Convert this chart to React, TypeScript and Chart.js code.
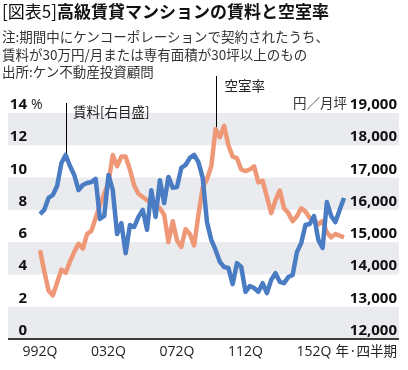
import React, { useEffect, useRef } from "react";
import { Chart, registerables } from "chart.js";

Chart.register(...registerables);

// ---- data ----
const quarters: string[] = [
  "992Q", "993Q", "994Q",
  "001Q", "002Q", "003Q", "004Q",
  "011Q", "012Q", "013Q", "014Q",
  "021Q", "022Q", "023Q", "024Q",
  "031Q", "032Q", "033Q", "034Q",
  "041Q", "042Q", "043Q", "044Q",
  "051Q", "052Q", "053Q", "054Q",
  "061Q", "062Q", "063Q", "064Q",
  "071Q", "072Q", "073Q", "074Q",
  "081Q", "082Q", "083Q", "084Q",
  "091Q", "092Q", "093Q", "094Q",
  "101Q", "102Q", "103Q", "104Q",
  "111Q", "112Q", "113Q", "114Q",
  "121Q", "122Q", "123Q", "124Q",
  "131Q", "132Q", "133Q", "134Q",
  "141Q", "142Q", "143Q", "144Q",
  "151Q", "152Q", "153Q", "154Q",
  "161Q", "162Q", "163Q", "164Q",
  "171Q",
];

// 賃料 (円/月坪, right axis)
const rent: number[] = [
  15870, 16000, 16370, 16460, 16740, 17450, 17700, 17360, 17080, 16610,
  16770, 16830, 16860, 16960, 15720, 15810, 17080, 16610, 15250, 15590,
  14660, 15530, 15470, 15780, 16000, 15380, 16610, 15780, 16920, 16210,
  17020, 16680, 16710, 17300, 17390, 17610, 17700, 17480, 16990, 15620,
  15070, 14760, 14390, 14230, 14200, 13700, 14350, 14230, 13460, 13640,
  13580, 13460, 13730, 13420, 13830, 14040, 13770, 13730, 13920, 13980,
  14690, 14970, 15530, 15560, 15810, 15070, 14820, 16240, 15810, 15620,
  16000, 16370,
];

// 空室率 (%, left axis)
const vacancy: number[] = [
  5.5, 4.2, 3.0, 2.7, 3.5, 4.3, 4.1, 4.8, 5.4, 5.9,
  5.6, 6.5, 6.7, 7.5, 8.3, 9.0, 9.7, 11.4, 10.7, 11.3,
  11.3, 10.5, 9.5, 9.0, 8.8, 8.6, 8.4, 8.3, 8.1, 7.7,
  6.0, 7.3, 6.1, 5.7, 6.8, 6.5, 5.8, 7.7, 9.4, 9.9,
  10.7, 13.0, 12.5, 13.2, 12.0, 11.3, 11.2, 10.5, 10.4, 10.5,
  10.7, 9.7, 9.8, 8.8, 7.8, 8.6, 9.2, 8.1, 7.8, 7.3,
  7.6, 8.1, 7.9, 7.5, 7.4, 7.1, 7.3, 6.6, 6.3, 6.5,
  6.4, 6.3,
];

const leftTicks: number[] = [0, 2, 4, 6, 8, 10, 12, 14];
const rightTicks: number[] = [12000, 13000, 14000, 15000, 16000, 17000, 18000, 19000];
const rightTickLabels: string[] = ["12,000", "13,000", "14,000", "15,000", "16,000", "17,000", "18,000", "19,000"];
const xTickLabels: string[] = ["992Q", "032Q", "072Q", "112Q", "152Q"];
const bands: [number, number][] = [[0, 2], [4, 6], [8, 10], [12, 14]];

const rentNoteIndex = 6;
const vacancyNoteIndex = 41;

// ---- styles ----
const BLUE = "#4a7cc3";
const ORANGE = "#ef9877";
const BAND = "#e9ebee";
const BAND_L = 8;
const BAND_R = 399;
const NUM = '"Open Sans", "DejaVu Sans", sans-serif';
const JP = '"Noto Sans CJK JP", sans-serif';

function text(ctx: CanvasRenderingContext2D, s: string, x: number, y: number, font: string, color: string, align: CanvasTextAlign) {
  ctx.font = font;
  ctx.fillStyle = color;
  ctx.textAlign = align;
  ctx.textBaseline = "alphabetic";
  ctx.fillText(s, x, y);
}

const decor = {
  id: "decor",
  beforeDatasetsDraw(chart: any) {
    const { ctx, scales } = chart;
    const y = scales.y;
    ctx.save();
    ctx.fillStyle = BAND;
    for (const [a, b] of bands) {
      const t = y.getPixelForValue(b);
      const btm = y.getPixelForValue(a);
      ctx.fillRect(BAND_L, t, BAND_R - BAND_L, btm - t);
    }
    ctx.restore();
  },
  afterDatasetsDraw(chart: any) {
    const { ctx, scales } = chart;
    const x = scales.x;
    const y = scales.y;
    const y2 = scales.y2;
    ctx.save();

    // axis line
    const base = y.getPixelForValue(0);
    ctx.strokeStyle = "#000";
    ctx.lineWidth = 1.5;
    ctx.beginPath();
    ctx.moveTo(BAND_L, base);
    ctx.lineTo(BAND_R, base);
    ctx.stroke();

    // left tick labels
    leftTicks.forEach((v) => {
      const py = y.getPixelForValue(v) - 4;
      text(ctx, String(v), 27, py, `bold 15px ${NUM}`, "#111", "right");
      if (v === 14) text(ctx, "%", 31, py, `14px ${NUM}`, "#222", "left");
    });
    // right tick labels
    rightTicks.forEach((v, i) => {
      const py = y2.getPixelForValue(v) - 4;
      text(ctx, rightTickLabels[i], 397, py, `bold 15px ${NUM}`, "#111", "right");
    });
    text(ctx, "円／月坪", 347, y2.getPixelForValue(19000) - 5, `13.5px ${JP}`, "#333", "right");

    // x tick labels
    xTickLabels.forEach((lab) => {
      const idx = quarters.indexOf(lab);
      text(ctx, lab, x.getPixelForValue(idx), 356, `14px ${NUM}`, "#222", "center");
    });
    text(ctx, "年·四半期", 397, 356, `13.5px ${JP}`, "#222", "right");

    // annotations
    ctx.strokeStyle = "#000";
    ctx.lineWidth = 1;
    const rx = Math.round(x.getPixelForValue(rentNoteIndex)) + 0.5;
    ctx.beginPath();
    ctx.moveTo(rx, 103);
    ctx.lineTo(rx, y2.getPixelForValue(rent[rentNoteIndex]) - 2);
    ctx.stroke();
    text(ctx, "賃料[右目盛]", 73, 117, `13.5px ${JP}`, "#222", "left");

    const vx = Math.round(x.getPixelForValue(vacancyNoteIndex)) + 0.5;
    ctx.beginPath();
    ctx.moveTo(vx, 76);
    ctx.lineTo(vx, y.getPixelForValue(vacancy[vacancyNoteIndex]) - 2);
    ctx.stroke();
    text(ctx, "空室率", vx + 8, 91, `13.5px ${JP}`, "#222", "left");

    ctx.restore();
  },
};

export default function App() {
  const ref = useRef<HTMLCanvasElement | null>(null);

  useEffect(() => {
    const canvas = ref.current;
    if (!canvas) return;
    const chart = new Chart(canvas, {
      type: "line",
      data: {
        labels: quarters,
        datasets: [
          {
            label: "賃料",
            data: rent,
            yAxisID: "y2",
            borderColor: BLUE,
            borderWidth: 4.5,
            pointRadius: 0,
            tension: 0,
            borderJoinStyle: "round",
            fill: false,
          },
          {
            label: "空室率",
            data: vacancy,
            yAxisID: "y",
            borderColor: ORANGE,
            borderWidth: 4.5,
            pointRadius: 0,
            tension: 0,
            borderJoinStyle: "round",
            fill: false,
          },
        ],
      },
      options: {
        responsive: false,
        maintainAspectRatio: false,
        devicePixelRatio: 1,
        animation: false,
        layout: { padding: { left: 40, right: 64, top: 113, bottom: 31 } },
        plugins: { legend: { display: false }, tooltip: { enabled: false }, title: { display: false } },
        scales: {
          x: { type: "category", display: false, offset: false },
          y: { type: "linear", display: false, min: 0, max: 14 },
          y2: { type: "linear", display: false, min: 12000, max: 19000 },
        },
      },
      plugins: [decor],
    });
    const fonts = (document as any).fonts;
    if (fonts && fonts.ready) fonts.ready.then(() => chart.draw());
    return () => chart.destroy();
  }, []);

  return (
    <div style={{ position: "absolute", left: 0, top: 0, width: 408, height: 370, overflow: "hidden", background: "#fff" }}>
      <canvas ref={ref} width={408} height={370} style={{ position: "absolute", left: 0, top: 0, width: 408, height: 370 }} />
      <div style={{ position: "absolute", left: 2, top: 0, fontFamily: JP, fontSize: 17, lineHeight: "22px", color: "#111", whiteSpace: "nowrap" }}>
        <span style={{ fontWeight: 400 }}>[図表5]</span>
        <span style={{ fontWeight: 700 }}>高級賃貸マンションの賃料と空室率</span>
      </div>
      <div style={{ position: "absolute", left: 2, top: 28, fontFamily: JP, fontSize: 13.5, lineHeight: "17.5px", color: "#333", whiteSpace: "nowrap" }}>
        <div>注:期間中にケンコーポレーションで契約されたうち、</div>
        <div>賃料が30万円/月または専有面積が30坪以上のもの</div>
        <div>出所:ケン不動産投資顧問</div>
      </div>
    </div>
  );
}
